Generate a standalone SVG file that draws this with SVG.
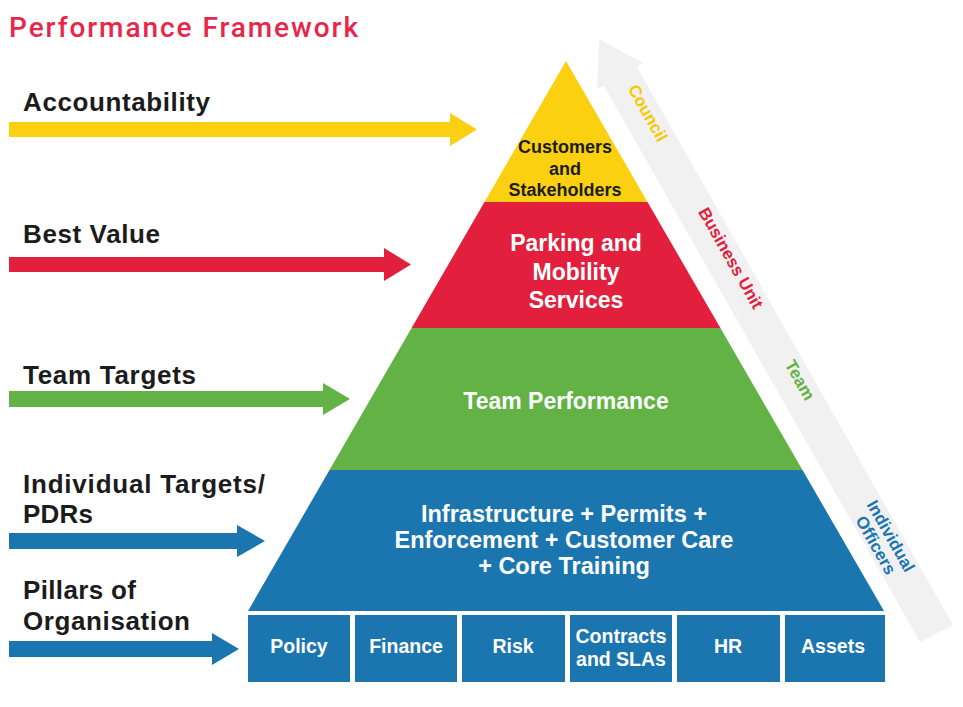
<svg xmlns="http://www.w3.org/2000/svg" width="963" height="707" viewBox="0 0 963 707">
<style>
  .lbl{font-family:"Liberation Sans",Arial,sans-serif;font-weight:bold;font-size:26px;fill:#1c1c1c}
  .tx{font-family:"Liberation Sans",Arial,sans-serif;font-weight:bold;text-anchor:middle}
  .w{fill:#ffffff}
  .pill{fill:#1b76b0}
  .side{font-family:"Liberation Sans",Arial,sans-serif;font-weight:bold;font-size:17px;text-anchor:middle}
</style>
<rect width="963" height="707" fill="#ffffff"/>
<text x="9" y="37" font-family="Roboto,'Liberation Sans',sans-serif" font-weight="500" font-size="28" fill="#e8264a" textLength="349" lengthAdjust="spacing">Performance Framework</text>

<g id="side-arrow">
  <polygon points="599,39 643,63 637,67 953,625 920,642 604,86 597,89" fill="#f1f1f1"/>
  <text class="side" fill="#f5c900" transform="translate(648,113) rotate(60.5)" y="6">Council</text>
  <text class="side" fill="#e21f3d" transform="translate(731,258) rotate(60.5)" y="6">Business Unit</text>
  <text class="side" fill="#62b245" transform="translate(800,380) rotate(60.5)" y="6">Team</text>
  <text class="side" fill="#1b76b0" transform="translate(891,536) rotate(60.5)" y="6">Individual</text>
  <text class="side" fill="#1b76b0" transform="translate(876,545) rotate(60.5)" y="6">Officers</text>
</g>

<g id="connectors">
  <polygon points="9,122 450,122 450,113 477,129.5 450,146 450,137 9,137" fill="#fbd011"/>
  <polygon points="9,257 384,257 384,248 411,264.5 384,281 384,272 9,272" fill="#e21f3d"/>
  <polygon points="9,391 323,391 323,383 350,399 323,415 323,407 9,407" fill="#62b245"/>
  <polygon points="9,533 237,533 237,525 265,541 237,557 237,549 9,549" fill="#1b76b0"/>
  <polygon points="9,641 212,641 212,633 239,649 212,665 212,657 9,657" fill="#1b76b0"/>
</g>

<g id="label-accountability"><text class="lbl" x="23" y="111" textLength="187" lengthAdjust="spacing">Accountability</text></g>
<g id="label-best-value"><text class="lbl" x="23" y="243" textLength="137" lengthAdjust="spacing">Best Value</text></g>
<g id="label-team-targets"><text class="lbl" x="23" y="384" textLength="173" lengthAdjust="spacing">Team Targets</text></g>
<g id="label-individual"><text class="lbl" x="23" y="493" textLength="242" lengthAdjust="spacing">Individual Targets/</text><text class="lbl" x="23" y="523" textLength="70" lengthAdjust="spacing">PDRs</text></g>
<g id="label-pillars"><text class="lbl" x="23" y="599" textLength="113" lengthAdjust="spacing">Pillars of</text><text class="lbl" x="23" y="630" textLength="167" lengthAdjust="spacing">Organisation</text></g>

<g id="tier-customers">
  <polygon points="566,61 647.5,202 484.5,202" fill="#fbd011"/>
  <text class="tx" font-size="18" fill="#1c1c1c" x="565" y="153">Customers</text>
  <text class="tx" font-size="18" fill="#1c1c1c" x="565" y="175">and</text>
  <text class="tx" font-size="18" fill="#1c1c1c" x="565" y="196">Stakeholders</text>
</g>
<g id="tier-parking">
  <polygon points="484.5,202 647.5,202 720.4,328 411.6,328" fill="#e21f3d"/>
  <text class="tx w" font-size="23" x="576" y="251">Parking and</text>
  <text class="tx w" font-size="23" x="576" y="280">Mobility</text>
  <text class="tx w" font-size="23" x="576" y="308">Services</text>
</g>
<g id="tier-team">
  <polygon points="411.6,328 720.4,328 802.5,470 329.5,470" fill="#62b245"/>
  <text class="tx w" font-size="23" x="566" y="409">Team Performance</text>
</g>
<g id="tier-individual">
  <polygon points="329.5,470 802.5,470 884,611 248,611" fill="#1b76b0"/>
  <text class="tx w" font-size="23.5" x="564" y="522">Infrastructure + Permits +</text>
  <text class="tx w" font-size="23.5" x="564" y="548">Enforcement + Customer Care</text>
  <text class="tx w" font-size="23.5" x="564" y="574">+ Core Training</text>
</g>

<g id="pillar-policy"><rect class="pill" x="248" y="615" width="102" height="67"/><text class="tx w" font-size="19.5" x="299" y="653">Policy</text></g>
<g id="pillar-finance"><rect class="pill" x="355" y="615" width="102" height="67"/><text class="tx w" font-size="19.5" x="406" y="653">Finance</text></g>
<g id="pillar-risk"><rect class="pill" x="462" y="615" width="103" height="67"/><text class="tx w" font-size="19.5" x="513" y="653">Risk</text></g>
<g id="pillar-contracts"><rect class="pill" x="570" y="615" width="102" height="67"/><text class="tx w" font-size="19.5" x="621" y="643">Contracts</text><text class="tx w" font-size="19.5" x="621" y="666">and SLAs</text></g>
<g id="pillar-hr"><rect class="pill" x="677" y="615" width="103" height="67"/><text class="tx w" font-size="19.5" x="728" y="653">HR</text></g>
<g id="pillar-assets"><rect class="pill" x="785" y="615" width="100" height="67"/><text class="tx w" font-size="19.5" x="833" y="653">Assets</text></g>
</svg>
